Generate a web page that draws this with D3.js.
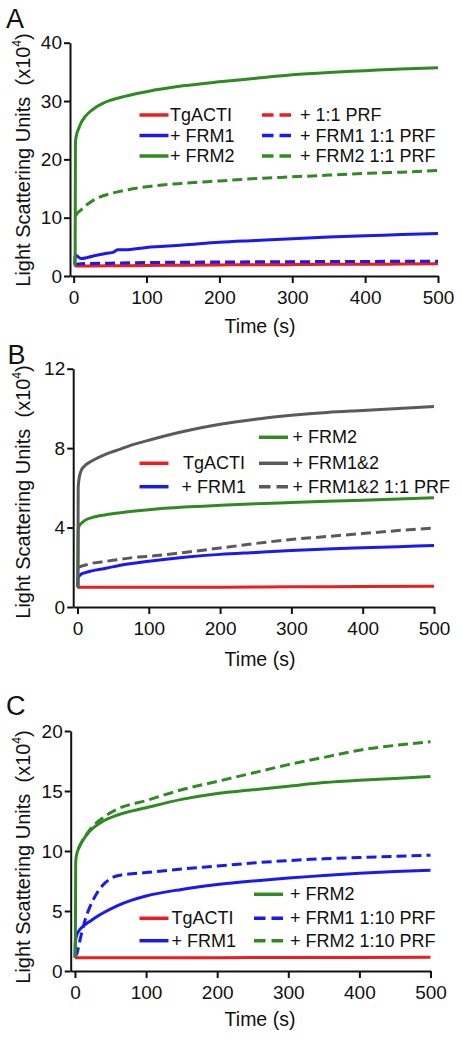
<!DOCTYPE html>
<html><head><meta charset="utf-8">
<script src="https://cdn.jsdelivr.net/npm/d3@7"></script>
<style>
body{margin:0;background:#fff}
text{font-family:"Liberation Sans",Arial,Helvetica,sans-serif;fill:#111}
</style>
</head><body>
<svg id="c" width="462" height="1040"></svg>
<script>
// ---------- data ----------
const xTicks = [0, 100, 200, 300, 400, 500];
const A_yTicks = [0, 10, 20, 30, 40];
const B_yTicks = [0, 4, 8, 12];
const C_yTicks = [0, 5, 10, 15, 20];
const panelLetters = ["A", "B", "C"];
const xTitle = "Time (s)";
const yTitleMain = "Light Scattering Units";

// Panel A
const A_TgACTI_t = [2, 50, 100, 150, 200, 250, 300, 350, 400, 450, 500];
const A_TgACTI_v = [1.7, 1.75, 1.8, 1.85, 1.9, 1.95, 1.95, 2.0, 2.0, 2.05, 2.1];
const A_PRF_t = [2, 50, 100, 150, 200, 250, 300, 350, 400, 450, 500];
const A_PRF_v = [1.8, 1.85, 1.9, 1.95, 2.0, 2.0, 2.05, 2.1, 2.1, 2.15, 2.2];
const A_FRM1_t = [1.5, 2, 3, 5, 10, 20, 30, 45, 55, 60, 70, 100, 150, 200, 250, 300, 350, 400, 450, 500];
const A_FRM1_v = [2.0, 3.3, 3.6, 3.4, 3.0, 3.2, 3.5, 3.9, 4.1, 4.5, 4.5, 4.9, 5.3, 5.8, 6.1, 6.4, 6.7, 6.9, 7.1, 7.3];
const A_FRM1PRF_t = [2, 10, 50, 100, 200, 300, 400, 500];
const A_FRM1PRF_v = [2.0, 2.1, 2.2, 2.3, 2.4, 2.45, 2.5, 2.55];
const A_FRM2_t = [0, 2, 2.5, 4, 7, 10, 15, 20, 30, 40, 50, 70, 100, 150, 200, 250, 300, 350, 400, 450, 500];
const A_FRM2_v = [1.8, 2.0, 23, 24.2, 25.3, 26.2, 27.2, 27.9, 28.9, 29.6, 30.1, 30.8, 31.6, 32.6, 33.3, 33.9, 34.5, 34.9, 35.2, 35.5, 35.7];
const A_FRM2PRF_t = [3, 4, 10, 15, 20, 30, 50, 75, 100, 150, 200, 250, 300, 350, 400, 450, 500];
const A_FRM2PRF_v = [10.3, 10.6, 11.3, 11.9, 12.4, 13.2, 14.1, 14.8, 15.3, 15.9, 16.3, 16.7, 17.0, 17.3, 17.6, 17.8, 18.1];

// Panel B
const B_TgACTI_t = [0, 100, 200, 300, 400, 500];
const B_TgACTI_v = [1.0, 1.0, 1.0, 1.02, 1.03, 1.05];
const B_FRM1_t = [0.5, 1, 5, 10, 20, 40, 60, 100, 150, 200, 250, 300, 350, 400, 450, 500];
const B_FRM1_v = [1.0, 1.5, 1.65, 1.72, 1.82, 1.95, 2.1, 2.3, 2.5, 2.65, 2.75, 2.85, 2.92, 2.98, 3.04, 3.1];
const B_FRM2_t = [0.5, 1, 2, 5, 10, 20, 40, 60, 100, 150, 200, 250, 300, 350, 400, 450, 500];
const B_FRM2_v = [1.0, 3.9, 4.05, 4.2, 4.35, 4.5, 4.65, 4.75, 4.9, 5.03, 5.12, 5.2, 5.26, 5.32, 5.38, 5.44, 5.5];
const B_FRM12_t = [0, 0.5, 1, 2, 5, 10, 20, 40, 60, 80, 100, 150, 200, 250, 300, 350, 400, 450, 500];
const B_FRM12_v = [1.0, 1.0, 6.0, 6.4, 6.85, 7.1, 7.35, 7.7, 7.95, 8.2, 8.4, 8.85, 9.2, 9.45, 9.65, 9.8, 9.9, 10.0, 10.1];
const B_FRM12PRF_t = [1, 10, 20, 40, 60, 80, 100, 150, 200, 250, 300, 350, 400, 450, 500];
const B_FRM12PRF_v = [2.0, 2.1, 2.2, 2.3, 2.4, 2.5, 2.55, 2.75, 2.97, 3.2, 3.4, 3.55, 3.7, 3.85, 3.98];

// Panel C
const C_TgACTI_t = [0, 100, 200, 300, 400, 500];
const C_TgACTI_v = [1.1, 1.1, 1.11, 1.12, 1.13, 1.14];
const C_FRM1_t = [0, 0.5, 2, 5, 10, 15, 20, 30, 40, 60, 80, 100, 150, 200, 250, 300, 350, 400, 450, 500];
const C_FRM1_v = [1.1, 2.4, 2.9, 3.3, 3.65, 3.9, 4.1, 4.5, 4.85, 5.45, 5.9, 6.25, 6.8, 7.2, 7.5, 7.75, 7.95, 8.15, 8.3, 8.4];
const C_FRM2_t = [0.5, 1, 2, 5, 10, 20, 40, 60, 100, 150, 200, 250, 300, 350, 400, 450, 500];
const C_FRM2_v = [1.1, 9.0, 9.6, 10.2, 10.8, 11.6, 12.5, 13.0, 13.6, 14.3, 14.8, 15.1, 15.4, 15.7, 15.9, 16.05, 16.2];
const C_FRM1PRF_t = [0, 3, 6, 10, 15, 20, 30, 40, 50, 65, 80, 100, 150, 200, 250, 300, 350, 400, 450, 500];
const C_FRM1PRF_v = [1.2, 1.5, 2.3, 3.3, 4.4, 5.2, 6.4, 7.2, 7.7, 8.0, 8.1, 8.2, 8.5, 8.75, 9.0, 9.2, 9.35, 9.45, 9.55, 9.65];
const C_FRM2PRF_t = [5, 10, 20, 40, 60, 100, 150, 200, 250, 300, 350, 400, 450, 500];
const C_FRM2PRF_v = [10.2, 10.8, 11.7, 12.8, 13.5, 14.2, 15.1, 15.8, 16.5, 17.2, 17.8, 18.4, 18.8, 19.1];

// legend labels
const A_legendLeft = ["TgACTI", "+ FRM1", "+ FRM2"];
const A_legendRight = ["+ 1:1 PRF", "+ FRM1 1:1 PRF", "+ FRM2 1:1 PRF"];
const B_legendLeft = ["TgACTI", "+ FRM1"];
const B_legendRight = ["+ FRM2", "+ FRM1&2", "+ FRM1&2 1:1 PRF"];
const C_legendLeft = ["TgACTI", "+ FRM1"];
const C_legendRight = ["+ FRM2", "+ FRM1 1:10 PRF", "+ FRM2 1:10 PRF"];

// ---------- style ----------
const RED = "#ee1c1c", BLUE = "#1a1af0", GREEN = "#2f8a22", GREY = "#5a5a5a";

const svg = d3.select("#c");

function drawPanel(p) {
  const g = svg.append("g");
  const x = d3.scaleLinear().domain(p.xDomain).range(p.xRange);
  const y = d3.scaleLinear().domain(p.yDomain).range(p.yRange);
  const line = d3.line().x(d => x(d[0])).y(d => y(d[1])).curve(d3.curveMonotoneX);

  p.series.forEach(s => {
    g.append("path")
      .datum(d3.zip(s.t, s.v))
      .attr("d", line)
      .attr("fill", "none")
      .attr("stroke", s.color)
      .attr("stroke-width", 3)
      .attr("stroke-linejoin", "round")
      .attr("stroke-dasharray", s.dash ? "10,5" : null);
  });

  const xa = g.append("g").attr("transform", `translate(0,${p.yRange[0]})`)
    .call(d3.axisBottom(x).tickValues(xTicks).tickSize(7).tickPadding(8).tickSizeOuter(0));
  const ya = g.append("g").attr("transform", `translate(${p.xRange[0]},0)`)
    .call(d3.axisLeft(y).tickValues(p.yTicks).tickSize(6).tickPadding(2).tickSizeOuter(0));
  [xa, ya].forEach(a => {
    a.selectAll("path,line").attr("stroke", "#111").attr("stroke-width", 2);
    a.selectAll("text").attr("font-size", 19).attr("font-family", '"Liberation Sans",Arial,sans-serif').attr("fill", "#111");
  });

  // panel letter
  g.append("text").attr("x", p.letterX).attr("y", p.letterY).attr("font-size", 27).text(p.letter);

  // x title
  g.append("text").attr("x", 260).attr("y", p.xTitleY).attr("text-anchor", "middle").attr("font-size", 19.5).text(xTitle);

  // y title
  const yt = g.append("text").attr("transform", `translate(30,${p.yTitleC}) rotate(-90)`)
    .attr("text-anchor", "middle").attr("font-size", 20);
  yt.append("tspan").text(yTitleMain + "\u00a0\u00a0(x10");
  yt.append("tspan").attr("font-size", 12).attr("dy", "-0.75em").text("4");
  yt.append("tspan").attr("dy", "0.45em").text(")");

  // legend
  const lg = g.append("g");
  p.legend.forEach(e => {
    lg.append("line").attr("x1", e.x1).attr("x2", e.x1 + 29).attr("y1", e.y).attr("y2", e.y)
      .attr("stroke", e.color).attr("stroke-width", 3.5)
      .attr("stroke-dasharray", e.dash ? "11.5,6" : null);
    lg.append("text").attr("x", e.tx).attr("y", e.y + 6).attr("font-size", 18).text(e.label);
  });
}

// Panel A
drawPanel({
  letter: panelLetters[0], letterX: 6, letterY: 28,
  xDomain: [-5, 500], xRange: [70, 438],
  yDomain: [0, 40], yRange: [276, 42.7], yTicks: A_yTicks,
  xTitleY: 333, yTitleC: 160,
  series: [
    {t: A_PRF_t, v: A_PRF_v, color: RED, dash: true},
    {t: A_TgACTI_t, v: A_TgACTI_v, color: RED},
    {t: A_FRM1_t, v: A_FRM1_v, color: BLUE},
    {t: A_FRM1PRF_t, v: A_FRM1PRF_v, color: BLUE, dash: true},
    {t: A_FRM2PRF_t, v: A_FRM2PRF_v, color: GREEN, dash: true},
    {t: A_FRM2_t, v: A_FRM2_v, color: GREEN}
  ],
  legend: [
    {x1: 139.5, tx: 170, y: 115, color: RED, label: A_legendLeft[0]},
    {x1: 139.5, tx: 170, y: 135.5, color: BLUE, label: A_legendLeft[1]},
    {x1: 139.5, tx: 170, y: 156, color: GREEN, label: A_legendLeft[2]},
    {x1: 262, tx: 300, y: 115, color: RED, dash: true, label: A_legendRight[0]},
    {x1: 262, tx: 300, y: 135.5, color: BLUE, dash: true, label: A_legendRight[1]},
    {x1: 262, tx: 300, y: 156, color: GREEN, dash: true, label: A_legendRight[2]}
  ]
});

// Panel B
drawPanel({
  letter: panelLetters[1], letterX: 7.5, letterY: 363.5,
  xDomain: [-6, 500], xRange: [73.2, 434],
  yDomain: [0, 12], yRange: [607, 368.7], yTicks: B_yTicks,
  xTitleY: 666, yTitleC: 492,
  series: [
    {t: B_TgACTI_t, v: B_TgACTI_v, color: RED},
    {t: B_FRM1_t, v: B_FRM1_v, color: BLUE},
    {t: B_FRM12PRF_t, v: B_FRM12PRF_v, color: GREY, dash: true},
    {t: B_FRM2_t, v: B_FRM2_v, color: GREEN},
    {t: B_FRM12_t, v: B_FRM12_v, color: GREY}
  ],
  legend: [
    {x1: 139.5, tx: 183, y: 463.3, color: RED, label: B_legendLeft[0]},
    {x1: 139.5, tx: 181.5, y: 486.7, color: BLUE, label: B_legendLeft[1]},
    {x1: 259, tx: 292.5, y: 437.3, color: GREEN, label: B_legendRight[0]},
    {x1: 259, tx: 292.5, y: 463.3, color: GREY, label: B_legendRight[1]},
    {x1: 259, tx: 292.5, y: 486.7, color: GREY, dash: true, label: B_legendRight[2]}
  ]
});

// Panel C
drawPanel({
  letter: panelLetters[2], letterX: 6, letterY: 715,
  xDomain: [-6, 500], xRange: [70.7, 430.5],
  yDomain: [0, 20], yRange: [971, 731], yTicks: C_yTicks,
  xTitleY: 1026, yTitleC: 857,
  series: [
    {t: C_TgACTI_t, v: C_TgACTI_v, color: RED},
    {t: C_FRM1_t, v: C_FRM1_v, color: BLUE},
    {t: C_FRM1PRF_t, v: C_FRM1PRF_v, color: BLUE, dash: true},
    {t: C_FRM2_t, v: C_FRM2_v, color: GREEN},
    {t: C_FRM2PRF_t, v: C_FRM2PRF_v, color: GREEN, dash: true}
  ],
  legend: [
    {x1: 139.5, tx: 171.5, y: 918.3, color: RED, label: C_legendLeft[0]},
    {x1: 139.5, tx: 171.5, y: 940.7, color: BLUE, label: C_legendLeft[1]},
    {x1: 254, tx: 290, y: 894.3, color: GREEN, label: C_legendRight[0]},
    {x1: 254, tx: 290, y: 918.3, color: BLUE, dash: true, label: C_legendRight[1]},
    {x1: 254, tx: 290, y: 940.7, color: GREEN, dash: true, label: C_legendRight[2]}
  ]
});
</script>
</body></html>
